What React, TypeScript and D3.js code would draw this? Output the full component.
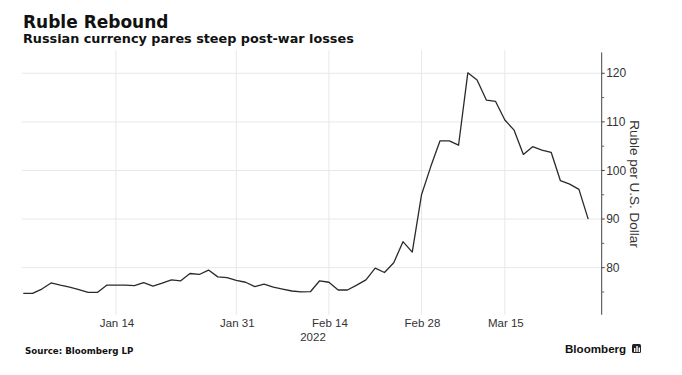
import React from "react";
import * as d3 from "d3";

const rubleValues: number[] = [
  74.7, 74.7, 75.6, 76.85, 76.4, 76.0, 75.5, 74.9, 74.9, 76.4,
  76.4, 76.4, 76.3, 76.9, 76.2, 76.8, 77.5, 77.3, 78.8, 78.6,
  79.5, 78.1, 77.95, 77.4, 77.0, 76.1, 76.6, 76.0, 75.6, 75.2,
  75.0, 75.05, 77.3, 77.0, 75.4, 75.4, 76.4, 77.5, 79.9, 79.0,
  81.0, 85.35, 83.2, 95.0, 100.8, 106.1, 106.1, 105.2, 120.1, 118.6,
  114.5, 114.2, 110.4, 108.3, 103.3, 104.9, 104.2, 103.75, 97.9, 97.2,
  96.1, 90.0,
];

const xTickIndex: number[] = [10, 23, 33, 43, 52];
const xTickLabels: string[] = ["Jan 14", "Jan 31", "Feb 14", "Feb 28", "Mar 15"];
const yMajorTicks: number[] = [80, 90, 100, 110, 120];
const yMinorTicks: number[] = [75, 85, 95, 105, 115];
const yearLabel = "2022";

const W = 682;
const H = 375;

export default function App() {
  const x = d3.scaleLinear().domain([0, rubleValues.length - 1]).range([23.3, 588.2]);
  const y = d3.scaleLinear().domain([70.3, 124.3]).range([314.8, 52.4]);
  const axisX = 601.7;
  const line = d3
    .line<number>()
    .x((_, i) => x(i))
    .y((d) => y(d));
  const tickFont = "'Liberation Sans', Arial, sans-serif";
  return (
    <svg
      width={W}
      height={H}
      style={{ position: "absolute", left: 0, top: 0, background: "#fff" }}
    >
      <rect x={0} y={0} width={W} height={H} fill="#fff" />
      {yMajorTicks.map((t) => (
        <line key={"hg" + t} x1={22} x2={axisX} y1={y(t)} y2={y(t)} stroke="#e8e8e8" strokeWidth={1} />
      ))}
      {xTickIndex.map((t) => (
        <line key={"vg" + t} x1={x(t)} x2={x(t)} y1={50} y2={y(70.3)} stroke="#e8e8e8" strokeWidth={1} />
      ))}
      <path d={line(rubleValues) || ""} fill="none" stroke="#2a2a2a" strokeWidth={1.3} strokeLinejoin="round" />
      <line x1={axisX} x2={axisX} y1={y(124.3)} y2={y(70.3)} stroke="#444" strokeWidth={1} />
      {yMajorTicks.map((t) => (
        <g key={"yt" + t}>
          <line x1={axisX} x2={axisX + 3} y1={y(t)} y2={y(t)} stroke="#444" />
          <text x={axisX + 4.5} y={y(t)} dy="0.35em" fontSize={12} fontFamily={tickFont} fill="#333">
            {t}
          </text>
        </g>
      ))}
      {yMinorTicks.map((t) => (
        <line key={"ym" + t} x1={axisX} x2={axisX + 2.5} y1={y(t)} y2={y(t)} stroke="#666" />
      ))}
      <text
        transform={`translate(635,184) rotate(90)`}
        textAnchor="middle"
        dy="0.35em"
        fontSize={13.5}
        fontFamily={tickFont}
        fill="#333"
      >
        Ruble per U.S. Dollar
      </text>
      {xTickIndex.map((t, i) => (
        <text key={"xl" + t} x={x(t) + 1} y={327} textAnchor="middle" fontSize={11.5} fontFamily={tickFont} fill="#333">
          {xTickLabels[i]}
        </text>
      ))}
      <text x={313} y={341} textAnchor="middle" fontSize={11.5} fontFamily={tickFont} fill="#333">
        {yearLabel}
      </text>
      <text x={23} y={27.5} fontSize={17} fontWeight="bold" fontFamily="'DejaVu Sans', Verdana, sans-serif" fill="#111">
        Ruble Rebound
      </text>
      <text x={23} y={43} fontSize={12.8} fontWeight="bold" fontFamily="'DejaVu Sans', Verdana, sans-serif" fill="#111">
        Russian currency pares steep post-war losses
      </text>
      <text x={25} y={354} fontSize={8.7} fontWeight="bold" fontFamily="'DejaVu Sans', Verdana, sans-serif" fill="#111">
        Source: Bloomberg LP
      </text>
      <text x={565} y={353} fontSize={11.6} fontWeight="bold" fontFamily={tickFont} fill="#111">
        Bloomberg
      </text>
      <rect x={632} y={344} width={9} height={9} rx={1.5} fill="#222" />
      <rect x={634} y={348} width={1.4} height={4} fill="#fff" />
      <rect x={636.3} y={346} width={1.4} height={6} fill="#fff" />
      <rect x={638.6} y={347.5} width={1.4} height={4.5} fill="#fff" />
    </svg>
  );
}
